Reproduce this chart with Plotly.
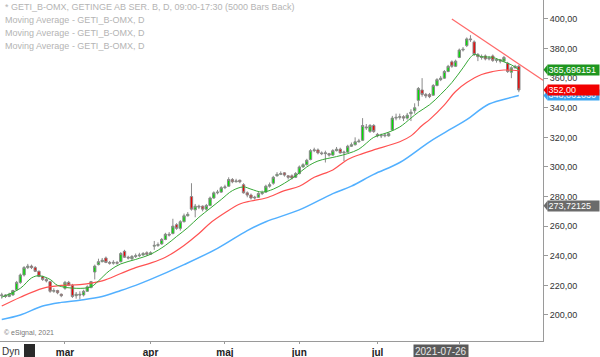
import pandas as pd
import plotly.graph_objects as go

# ---------------- data ----------------
holidays = ["2021-04-02", "2021-04-05", "2021-05-13", "2021-06-25"]
dates = [d.strftime("%Y-%m-%d") for d in pd.bdate_range("2021-02-04", "2021-08-24")
         if d.strftime("%Y-%m-%d") not in holidays]

opens = [213, 213.5, 212.5, 213.5, 217, 222, 227, 232, 233, 232,
         229.5, 226, 224, 222.5, 216, 216.5, 214, 218, 222, 220,
         213, 214, 213.5, 216, 218.5, 229, 234, 236, 238.5, 235.5,
         235, 235.5, 236, 243, 239, 238, 239.5, 240, 240.5, 242,
         241, 246.5, 247, 248, 251, 254.5, 255, 261, 258.5, 263,
         267, 280, 271, 273.5, 273.5, 271.5, 274, 279, 282.5, 283,
         286, 287, 291.5, 290, 291, 288, 282.5, 281, 279, 279.5,
         282, 283, 287, 289, 294, 295, 296, 294, 294, 293,
         295.5, 300, 301.5, 305, 311, 311.5, 309.5, 309, 309, 308,
         311, 312, 309.5, 310, 314, 315, 317, 318, 327, 324,
         328, 322, 321, 321, 321, 325, 333, 333.5, 334, 333,
         336, 338, 345, 352, 349, 349, 348.5, 355, 359, 360,
         364.5, 371, 368, 374, 379, 382, 386.5, 384.5, 376, 374.5,
         375, 373, 375, 372, 372.5, 371.5, 370, 364, 367, 368]
highs = [215, 214, 215, 217, 223, 228, 233, 234.5, 234, 233,
         230, 226.5, 225, 223, 218, 217, 214.5, 223, 223, 221,
         215.5, 216, 217, 220, 223, 234, 238, 238.5, 239.5, 236.5,
         237, 236.5, 242.5, 244, 240, 240.5, 241.5, 242, 242.5, 243,
         243, 250, 249, 252, 255.5, 256, 265, 262, 264, 268.5,
         269.5, 289, 275, 274.5, 274, 275, 280, 283.5, 284.5, 287,
         288, 293, 292.5, 292, 291.5, 289, 283.5, 282, 280.5, 283,
         284, 288, 289.5, 294, 296.5, 297, 296.5, 294.5, 295, 296.5,
         301, 302.5, 305.5, 312, 313, 312.5, 310.5, 311, 309.5, 312,
         313.5, 313, 311, 315, 316.5, 320, 319, 333, 329, 329,
         329, 323, 322.5, 323, 323.5, 334.5, 336, 336, 335, 336.5,
         339, 343, 354, 360, 350, 350, 356, 360, 361.5, 365.5,
         369, 372, 372.5, 380, 381, 387.5, 389, 385.5, 377, 376,
         376, 375, 376, 373.5, 373, 375, 371, 368, 369, 369]
lows = [211, 211.5, 212, 213, 216.5, 221, 226, 231, 231, 229,
        225.5, 223, 222, 215, 215, 214, 212, 217, 219.5, 211.5,
        211, 210.5, 212.5, 215.5, 218, 224, 233.5, 235.5, 235, 234,
        234, 234, 235.5, 238.5, 237.5, 237, 238.5, 239, 240, 240,
        240.5, 244, 246, 247.5, 250.5, 253, 254.5, 257.5, 257, 262.5,
        266.5, 270.5, 266, 271.5, 270, 270.5, 273.5, 278.5, 281.5, 282.5,
        285, 286.5, 289, 289.5, 289, 282, 279.5, 278, 278, 279,
        281, 282.5, 286, 288, 293.5, 294.5, 293.5, 291.5, 291.5, 292.5,
        295, 299.5, 301, 304.5, 310, 308.5, 308, 303, 307, 307.5,
        310.5, 309, 304, 309.5, 313.5, 314.5, 316.5, 317.5, 325, 323,
        323, 320, 319.5, 320, 320.5, 324.5, 331.5, 332, 331, 332,
        331, 336, 341, 347.5, 346.5, 346.5, 348, 354.5, 358, 359.5,
        364, 367, 367.5, 373.5, 378, 381, 384.5, 375, 371.5, 372.5,
        372, 372, 371, 370.5, 370, 371, 363.5, 360, 366.5, 350.5]
closes = [213.5, 212.5, 214, 216.5, 222, 227, 232, 233, 232, 229.5,
          226, 224, 223, 216, 216.5, 215, 213, 222, 220, 212.5,
          214, 213.5, 216, 219, 222.5, 233, 236, 237, 235.5, 235,
          235.5, 235, 241.5, 239, 238.5, 239.5, 240, 240.5, 241.5, 241,
          242, 247, 247.5, 251, 254.5, 254, 260, 258.5, 263, 267,
          268, 271.5, 273.5, 273, 271.5, 274, 279, 282.5, 283, 286,
          286.5, 291.5, 290, 290.5, 290, 282.5, 281, 279, 279.5, 282,
          282.5, 287, 288, 293, 295, 295.5, 294.5, 293, 292.5, 295.5,
          300, 301.5, 304.5, 311, 311.5, 309.5, 309, 309.5, 308, 311,
          312, 309.5, 310, 314, 315, 317, 317.5, 328, 326.5, 328,
          324, 321, 321.2, 321.5, 322.5, 333, 333.5, 334, 333, 335,
          337, 340, 353, 349, 348, 347.5, 355, 359, 360, 364.5,
          368, 368, 371.5, 379, 379.5, 386.5, 386, 376, 374.5, 374,
          373, 373.5, 372, 372.5, 371.5, 374, 364.5, 367, 368, 352]

# moving averages (bar position -> value)
ma_fast_pos = [0, 5, 8, 10, 13, 15, 20, 24, 26, 29, 32, 36, 40, 44, 47, 50, 53, 56, 59, 62,
               65, 67, 70, 73, 76, 79, 82, 85, 90, 93, 96, 98, 100, 104, 107, 110, 112, 115,
               118, 121, 124, 126, 127, 129, 132, 135, 137, 139]
ma_fast_val = [212, 218, 225, 226.5, 224, 220, 218, 219, 223, 230, 234.5, 237.5, 241, 247, 253,
               259, 266, 272, 278, 284, 286.5, 285, 283, 285, 289, 294, 300, 304, 307, 309, 312,
               316, 320, 323.5, 327, 333, 337, 342, 349, 357, 367, 374, 376, 374.5, 374, 371,
               369, 365.696151]
ma_mid_pos = [0, 5, 11, 16, 21, 27, 32, 36, 40, 44, 49, 53, 56, 60, 64, 67, 71, 76, 80, 84,
              89, 93, 97, 100, 107, 110, 113, 115, 119, 122, 125, 129, 132, 135, 139]
ma_mid_val = [206, 212, 218, 220, 220.5, 223, 228, 232, 235, 239, 247, 255, 262, 269, 275, 277,
              279, 284, 287, 293, 298, 305, 309, 311.5, 317, 321, 328, 332, 342, 351, 357, 362.5,
              364.5, 365.5, 365]
ma_slow_pos = [0, 5, 11, 16, 21, 27, 32, 36, 40, 49, 58, 66, 71, 80, 89, 94, 100, 107, 115,
               121, 125, 131, 137, 139]
ma_slow_val = [197, 200, 206, 208.5, 210, 212.5, 216.5, 220, 224, 234, 245, 257, 263, 271, 282,
               287, 295, 303, 317, 326, 332, 342.5, 347, 348.3]

month_ticks = ["2021-03-01", "2021-04-01", "2021-05-03", "2021-06-01", "2021-07-01", "2021-08-02"]
month_labels = ["mar", "apr", "maj", "jun", "jul", ""]  # "aug" hidden under cursor box
y_ticks = [200, 220, 240, 260, 280, 300, 320, 340, 360, 380, 400]
y_tick_labels = ["200,00", "220,00", "240,00", "260,00", "280,00", "300,00",
                 "320,00", "340,00", "360,00", "380,00", "400,00"]

cursor_date = "2021-07-26"
cursor_value = 273.72125
trend_start_date = "2021-07-29"
trend_start_value = 400.0
trend_end_value = 358.6
slow_label = "348,061030"

legend_lines = ["* GETI_B-OMX, GETINGE AB SER. B, D, 09:00-17:30 (5000 Bars Back)",
                "Moving Average - GETI_B-OMX, D",
                "Moving Average - GETI_B-OMX, D",
                "Moving Average - GETI_B-OMX, D"]

# ---------------- layout helpers ----------------
W, H = 600, 357
PW, PH = 543, 341
FONT = "Liberation Sans, Arial, sans-serif"
XR = [-0.47, 145.5]
YR = [182.4, 412.8]


def px(x):
    return x / PW


def py(y):
    return 1 - y / PH


fig = go.Figure()

fig.add_trace(go.Candlestick(
    x=dates, open=opens, high=highs, low=lows, close=closes,
    increasing=dict(line=dict(color="#8a8a8a", width=1), fillcolor="#00e000"),
    decreasing=dict(line=dict(color="#8a8a8a", width=1), fillcolor="#f00000"),
    whiskerwidth=0,
))
fig.add_trace(go.Scatter(x=[dates[i] for i in ma_slow_pos], y=ma_slow_val, mode="lines",
                         line=dict(color="#52b0ff", width=1.5, shape="spline"), hoverinfo="skip"))
fig.add_trace(go.Scatter(x=[dates[i] for i in ma_mid_pos], y=ma_mid_val, mode="lines",
                         line=dict(color="#ff5252", width=1.2, shape="spline"), hoverinfo="skip"))
fig.add_trace(go.Scatter(x=[dates[i] for i in ma_fast_pos], y=ma_fast_val, mode="lines",
                         line=dict(color="#36a836", width=1, shape="spline"), hoverinfo="skip"))

shapes = []
# trend line
shapes.append(dict(type="line", xref="x", yref="y",
                   x0=dates.index(trend_start_date), y0=trend_start_value,
                   x1=XR[1], y1=trend_end_value,
                   line=dict(color="#ff6a6a", width=1.2)))

annotations = []
for k, t in enumerate(legend_lines):
    annotations.append(dict(xref="paper", yref="paper", x=px(3), y=py(7.5 + 12.8 * k),
                            xanchor="left", yanchor="middle", showarrow=False, text=t,
                            font=dict(family=FONT, size=9, color="#b4b4b4")))


# right side value labels
def value_label(val, text, bg):
    d = 3.4
    shapes.append(dict(type="path", xref="paper", yref="y",
                       path=f"M {px(543.5)} {val} L {px(547.5)} {val + d} L {px(547.5)} {val - d} Z",
                       fillcolor=bg, line=dict(width=0)))
    annotations.append(dict(xref="paper", yref="y", x=px(547), y=val, xanchor="left",
                            yanchor="middle", showarrow=False, text=text, align="left",
                            width=50, height=9, bgcolor=bg, borderpad=0.5,
                            font=dict(family=FONT, size=9, color="white")))


value_label(ma_slow_val[-1], slow_label, "#3aa6f2")
value_label(ma_fast_val[-1], f"{ma_fast_val[-1]:.6f}".replace(".", ","), "#1f961f")
value_label(closes[-1], f"{closes[-1]:.2f}".replace(".", ","), "#f20000")
value_label(cursor_value, f"{cursor_value:.5f}".replace(".", ","), "#6b6b6b")

# cursor date box
annotations.append(dict(xref="x", yref="paper", x=cursor_date, y=py(351.5), xanchor="center",
                        yanchor="middle", showarrow=False, text=cursor_date, bgcolor="#5a5a5a",
                        borderpad=1, font=dict(family=FONT, size=10, color="#e8e8e8")))
# copyright
annotations.append(dict(xref="paper", yref="paper", x=px(2), y=py(333), xanchor="left",
                        yanchor="middle", showarrow=False, text="© eSignal, 2021",
                        font=dict(family=FONT, size=7, color="#777777")))
# Dyn + icon
annotations.append(dict(xref="paper", yref="paper", x=px(0), y=py(351), xanchor="left",
                        yanchor="middle", showarrow=False, text="Dyn",
                        font=dict(family=FONT, size=10, color="#333333")))
shapes.append(dict(type="rect", xref="paper", yref="paper", x0=px(24), x1=px(35),
                   y0=py(344), y1=py(357), fillcolor="#2a2a2a", line=dict(width=0)))

fig.update_layout(
    width=W, height=H,
    margin=dict(l=0, r=W - PW, t=0, b=H - PH),
    paper_bgcolor="white", plot_bgcolor="white",
    showlegend=False,
    boxgap=0.1,
    font=dict(family=FONT),
    shapes=shapes, annotations=annotations,
    xaxis=dict(type="category", categoryorder="array", categoryarray=dates,
               range=XR, rangeslider=dict(visible=False),
               tickmode="array", tickvals=month_ticks,
               ticktext=[f"<b>{t}</b>" for t in month_labels],
               tickfont=dict(family=FONT, size=10, color="#222222"),
               showgrid=False, zeroline=False, showline=True, linecolor="#9a9a9a", linewidth=1,
               ticks="outside", ticklen=2, tickcolor="#9a9a9a"),
    yaxis=dict(side="right", range=YR, tickmode="array", tickvals=y_ticks, ticktext=y_tick_labels,
               tickfont=dict(family=FONT, size=9, color="#333333"),
               showgrid=False, zeroline=False, showline=True, linecolor="#9a9a9a", linewidth=1,
               ticks="outside", ticklen=4, tickcolor="#9a9a9a"),
)

fig.write_html("out.html", config={"displayModeBar": False},
               post_script="document.body.style.margin='0px';document.body.style.overflow='hidden';")
